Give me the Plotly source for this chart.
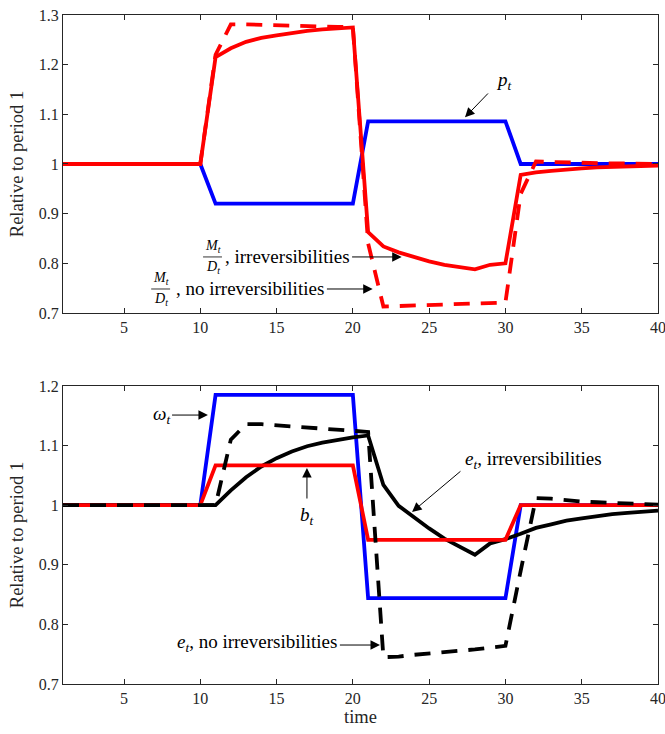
import plotly.graph_objects as go

# ---------------- data ----------------
t = list(range(1, 41))

# top panel
p_t = [1.0, 1.0, 1.0, 1.0, 1.0, 1.0, 1.0, 1.0, 1.0, 1.0,
       0.92, 0.92, 0.92, 0.92, 0.92, 0.92, 0.92, 0.92, 0.92, 0.92,
       1.086, 1.086, 1.086, 1.086, 1.086, 1.086, 1.086, 1.086, 1.086, 1.086,
       1.0, 1.0, 1.0, 1.0, 1.0, 1.0, 1.0, 1.0, 1.0, 1.0]
md_irr = [1.0, 1.0, 1.0, 1.0, 1.0, 1.0, 1.0, 1.0, 1.0, 1.0,
          1.215, 1.233, 1.246, 1.254, 1.259, 1.264, 1.268, 1.271, 1.273, 1.275,
          0.863, 0.834, 0.822, 0.812, 0.804, 0.797, 0.792, 0.788, 0.797, 0.800,
          0.978, 0.983, 0.986, 0.989, 0.991, 0.993, 0.994, 0.995, 0.996, 0.997]
md_noirr = [1.0, 1.0, 1.0, 1.0, 1.0, 1.0, 1.0, 1.0, 1.0, 1.0,
            1.22, 1.281, 1.281, 1.280, 1.279, 1.278, 1.277, 1.277, 1.276, 1.276,
            0.84, 0.713, 0.714, 0.715, 0.716, 0.717, 0.718, 0.719, 0.720, 0.721,
            0.94, 1.005, 1.004, 1.003, 1.002, 1.002, 1.001, 1.001, 1.0, 1.0]

# bottom panel
omega_t = [1.0, 1.0, 1.0, 1.0, 1.0, 1.0, 1.0, 1.0, 1.0, 1.0,
           1.185, 1.185, 1.185, 1.185, 1.185, 1.185, 1.185, 1.185, 1.185, 1.185,
           0.844, 0.844, 0.844, 0.844, 0.844, 0.844, 0.844, 0.844, 0.844, 0.844,
           1.0, 1.0, 1.0, 1.0, 1.0, 1.0, 1.0, 1.0, 1.0, 1.0]
b_t = [1.0, 1.0, 1.0, 1.0, 1.0, 1.0, 1.0, 1.0, 1.0, 1.0,
       1.067, 1.067, 1.067, 1.067, 1.067, 1.067, 1.067, 1.067, 1.067, 1.067,
       0.942, 0.942, 0.942, 0.942, 0.942, 0.942, 0.942, 0.942, 0.942, 0.942,
       1.0, 1.0, 1.0, 1.0, 1.0, 1.0, 1.0, 1.0, 1.0, 1.0]
e_irr = [1.0, 1.0, 1.0, 1.0, 1.0, 1.0, 1.0, 1.0, 1.0, 1.0,
         1.0, 1.025, 1.047, 1.065, 1.079, 1.090, 1.099, 1.105, 1.110, 1.114,
         1.117, 1.034, 0.999, 0.979, 0.961, 0.944, 0.930, 0.917, 0.936, 0.943,
         0.952, 0.962, 0.968, 0.974, 0.978, 0.982, 0.985, 0.987, 0.989, 0.991]
e_noirr = [1.0, 1.0, 1.0, 1.0, 1.0, 1.0, 1.0, 1.0, 1.0, 1.0,
           1.0, 1.11, 1.136, 1.136, 1.134, 1.132, 1.130, 1.128, 1.126, 1.125,
           1.123, 0.745, 0.746, 0.749, 0.751, 0.753, 0.756, 0.758, 0.761, 0.764,
           0.89, 1.012, 1.011, 1.008, 1.006, 1.005, 1.004, 1.002, 1.001, 1.001]

x_ticks = [5, 10, 15, 20, 25, 30, 35, 40]
x_ticktext = ["5", "10", "15", "20", "25", "30", "35", "40"]
y1_ticks = [0.7, 0.8, 0.9, 1.0, 1.1, 1.2, 1.3]
y1_ticktext = ["0.7", "0.8", "0.9", "1", "1.1", "1.2", "1.3"]
y2_ticks = [0.7, 0.8, 0.9, 1.0, 1.1, 1.2]
y2_ticktext = ["0.7", "0.8", "0.9", "1", "1.1", "1.2"]

# ---------------- styles ----------------
FONT = "Liberation Serif"
BLUE = "#0000FF"
RED = "#FF0000"
BLACK = "#000000"
LW = 3.8
DASH = "16px,11px"
AX = "#262626"

fig = go.Figure()

fig.add_trace(go.Scatter(x=t, y=p_t, mode="lines", line=dict(color=BLUE, width=LW), xaxis="x", yaxis="y"))
fig.add_trace(go.Scatter(x=t, y=md_irr, mode="lines", line=dict(color=RED, width=LW), xaxis="x", yaxis="y"))
fig.add_trace(go.Scatter(x=t, y=md_noirr, mode="lines", line=dict(color=RED, width=LW, dash=DASH), xaxis="x", yaxis="y"))

fig.add_trace(go.Scatter(x=t, y=omega_t, mode="lines", line=dict(color=BLUE, width=LW), xaxis="x2", yaxis="y2"))
fig.add_trace(go.Scatter(x=t, y=e_irr, mode="lines", line=dict(color=BLACK, width=LW), xaxis="x2", yaxis="y2"))
fig.add_trace(go.Scatter(x=t, y=b_t, mode="lines", line=dict(color=RED, width=LW), xaxis="x2", yaxis="y2"))
fig.add_trace(go.Scatter(x=t, y=e_noirr, mode="lines", line=dict(color=BLACK, width=LW, dash=DASH), xaxis="x2", yaxis="y2"))

axis_common = dict(showline=True, linecolor=AX, linewidth=1, mirror="ticks", ticks="inside",
                   ticklen=5, tickcolor=AX, tickwidth=1, showgrid=False, zeroline=False,
                   automargin=False, ticklabeloverflow="allow",
                   tickfont=dict(family=FONT, size=16, color=AX))

TITLE_FONT = dict(family=FONT, size=18.5, color="#262626")

fig.update_layout(
    width=665, height=734,
    margin=dict(l=63, r=7, t=15, b=50),
    paper_bgcolor="white", plot_bgcolor="white",
    showlegend=False,
    font=dict(family=FONT, color="#000000"),
    xaxis=dict(domain=[0, 1], range=[1, 40], tickvals=x_ticks, ticktext=x_ticktext,
               anchor="y", **axis_common),
    yaxis=dict(domain=[0.5546, 1], range=[0.7, 1.3], tickvals=y1_ticks, ticktext=y1_ticktext,
               anchor="x", title=dict(text="Relative to period 1", font=TITLE_FONT, standoff=10),
               **axis_common),
    xaxis2=dict(domain=[0, 1], range=[1, 40], tickvals=x_ticks, ticktext=x_ticktext,
                anchor="y2", title=dict(text="time", font=TITLE_FONT, standoff=3),
                **axis_common),
    yaxis2=dict(domain=[0, 0.4454], range=[0.7, 1.2], tickvals=y2_ticks, ticktext=y2_ticktext,
                anchor="x2", title=dict(text="Relative to period 1", font=TITLE_FONT, standoff=10),
                **axis_common),
)

TF = dict(family=FONT, size=19, color="#000000")
SF = dict(family=FONT, size=14, color="#000000")

def arrow(x, y, ax, ay, xr, yr):
    fig.add_annotation(x=x, y=y, ax=ax, ay=ay, xref=xr, yref=yr, axref=xr, ayref=yr,
                       text="", showarrow=True, arrowhead=2, arrowsize=1.9, arrowwidth=1,
                       arrowcolor="#000000", standoff=0, startstandoff=0)

def label(x, y, text, xr, yr, xanchor="left", yanchor="middle", font=TF):
    fig.add_annotation(x=x, y=y, xref=xr, yref=yr, text=text, showarrow=False,
                       xanchor=xanchor, yanchor=yanchor, font=font, borderpad=0)

def frac(xc, yc, xr, yr, dy):
    label(xc, yc + dy, "<i>M<sub>t</sub></i>", xr, yr, xanchor="center", yanchor="bottom", font=SF)
    label(xc, yc - dy, "<i>D<sub>t</sub></i>", xr, yr, xanchor="center", yanchor="top", font=SF)
    fig.add_shape(type="line", xref=xr, yref=yr, x0=xc - 0.62, x1=xc + 0.62, y0=yc, y1=yc,
                  line=dict(color="#000000", width=0.8))

# top panel annotations
label(29.3, 1.167, "<i>p<sub>t</sub></i>", "x", "y", xanchor="left")
arrow(27.35, 1.094, 28.95, 1.145, "x", "y")

frac(10.8, 0.8128, "x", "y", 0.002)
label(19.85, 0.8128, ", irreversibilities", "x", "y", xanchor="right")
arrow(23.2, 0.8128, 19.85, 0.8128, "x", "y")

frac(7.4, 0.7483, "x", "y", 0.002)
label(18.2, 0.7483, ", no irreversibilities", "x", "y", xanchor="right")
arrow(21.3, 0.7483, 18.2, 0.7483, "x", "y")

# bottom panel annotations
label(8.05, 1.1513, "<i>ω<sub>t</sub></i>", "x2", "y2", xanchor="right")
arrow(10.5, 1.1513, 8.05, 1.1513, "x2", "y2")

label(16.99, 0.982, "<i>b<sub>t</sub></i>", "x2", "y2", xanchor="center")
arrow(16.99, 1.0624, 16.99, 1.0087, "x2", "y2")

label(27.3, 1.0758, "<i>e<sub>t</sub></i>, irreversibilities", "x2", "y2")
arrow(23.88, 0.9886, 27.15, 1.059, "x2", "y2")

label(19.05, 0.7688, "<i>e<sub>t</sub></i>, no irreversibilities", "x2", "y2", xanchor="right")
arrow(21.78, 0.7654, 19.05, 0.7654, "x2", "y2")

# remove the default 8px page margin so the figure sits at the window origin
fig.write_html("out.html", config={"displayModeBar": False},
               post_script="document.body.style.margin='0px';")
